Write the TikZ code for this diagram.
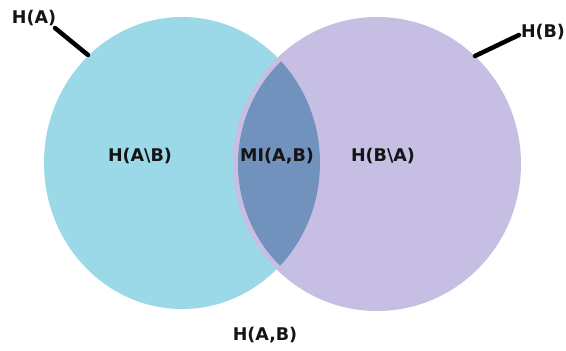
\documentclass[tikz,border=0pt]{standalone}
\usepackage{fontspec}
\setmainfont{DejaVu Sans}
\definecolor{cA}{RGB}{155,217,232}
\definecolor{cB}{RGB}{199,190,228}
\definecolor{cAB}{RGB}{112,146,188}
\definecolor{txt}{RGB}{20,20,20}
\begin{document}
\begin{tikzpicture}[x=1pt,y=-1pt,
  lbl/.style={font=\fontsize{17.5}{19}\selectfont\bfseries, text=txt, inner sep=0pt},
  tick/.style={line width=4.5pt, line cap=round, draw=black}]
\useasboundingbox (0,0) rectangle (566,351);
\fill[white] (0,0) rectangle (566,351);
% circles
\fill[cA] (182,163) ellipse [x radius=138, y radius=146];
\fill[cB] (377,164) ellipse [x radius=144, y radius=147];
\begin{scope}
  \clip (182,163) ellipse [x radius=138, y radius=146];
  \fill[cAB] (377,164) ellipse [x radius=139, y radius=142];
\end{scope}
% labels
\node[lbl] (ha) at (34,18) {H(A)};
\node[lbl] (hb) at (543,32) {H(B)};
\node[lbl] (hanb) at (140,156) {H(A\textbackslash B)};
\node[lbl] (mi) at (277,156) {MI(A,B)};
\node[lbl] (hbna) at (383,156) {H(B\textbackslash A)};
\node[lbl] (hab) at (265,335) {H(A,B)};
% pointer lines
\coordinate (pa) at (88,55);
\coordinate (pb) at (475,56);
\coordinate (ta) at (55,28);
\coordinate (tb) at (519,35);
\draw[tick] (ta) -- (pa);
\draw[tick] (tb) -- (pb);
\end{tikzpicture}
\end{document}
